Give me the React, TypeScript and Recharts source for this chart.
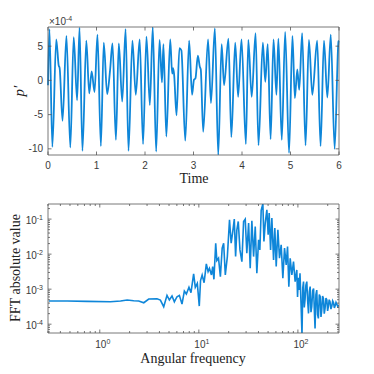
import React from 'react';
import { LineChart, Line, XAxis, YAxis } from 'recharts';

// ---------- top panel: pressure fluctuation vs time (values in units of 1e-4) ----------
const timeValues = [
  0, 0.03, 0.09, 0.17, 0.22, 0.24, 0.30, 0.38, 0.46, 0.53, 0.60, 0.65, 0.71, 0.79, 0.85, 0.90, 0.96,
  1.02, 1.09, 1.15, 1.22, 1.28, 1.33, 1.40, 1.46, 1.53, 1.60, 1.66, 1.74, 1.81, 1.89, 1.96,
  2.03, 2.10, 2.16, 2.23, 2.30, 2.35, 2.38, 2.44, 2.52, 2.56, 2.58, 2.60, 2.65, 2.71, 2.75, 2.83, 2.91, 2.97,
  3.01, 3.04, 3.09, 3.13, 3.15, 3.20, 3.30, 3.36, 3.44, 3.51, 3.58, 3.63, 3.72, 3.78, 3.86, 3.92, 3.99,
  4.08, 4.13, 4.20, 4.28, 4.34, 4.43, 4.48, 4.53, 4.59, 4.65, 4.71, 4.75, 4.82, 4.89, 4.97,
  5.04, 5.09, 5.14, 5.18, 5.24, 5.31, 5.38, 5.45, 5.55, 5.62, 5.69, 5.76, 5.83, 5.91, 5.99, 6.0,
];
const pressureE4 = [
  -0.7, 7.5, -9.7, 6.0, 2.2, 1.8, -5.9, 6.5, -9.8, 6.3, -2.9, 7.7, -10.3, 5.8, -1.9, 1.3, -1.7,
  6.7, -9.6, 5.5, -2.0, 1.5, 5.4, -8.7, 5.4, -3.1, 7.5, -10.3, 5.8, -2.1, 6.0, -9.3,
  6.4, -3.6, 7.8, -10.4, 5.9, -0.3, 5.3, -8.2, 6.0, 1.0, 1.8, 0.9, -5.1, 4.7, 4.4, -8.8, 5.8, -2.1,
  0.1, 0.3, 3.6, 2.0, 1.6, -7.5, 6.0, -3.3, 7.6, -10.9, 5.3, -0.7, 6.1, -8.3, 5.5, -2.4, 6.0,
  -9.3, 5.9, -2.4, 6.9, -9.5, 5.5, -0.2, 5.3, -8.6, 6.0, -2.1, 6.1, -8.7, 7.1, -10.6,
  6.5, -2.6, 1.6, -1.4, 6.9, -9.5, 5.9, -2.1, 5.8, -9.6, 5.8, -2.5, 6.7, -10.0, 5.7, 5.8,
];
const timeTicks = [0, 1, 2, 3, 4, 5, 6];
const pressureTicks = [-10, -5, 0, 5];

// ---------- bottom panel: FFT magnitude vs angular frequency ----------
const fftFreq = [
  0.306, 0.469, 0.745, 1.28, 1.62, 1.89, 2.20, 2.47, 2.78, 3.12, 3.78, 4.09, 4.42, 4.77, 5.04, 5.36, 5.66,
  6.02, 6.36, 6.76, 7.14, 7.48, 7.95, 8.33, 8.86, 9.21, 9.65, 10.1, 10.4, 10.8, 11.3, 11.9, 12.4, 12.8,
  13.4, 13.8, 14.2, 14.8, 15.2, 15.8, 16.5, 17.2, 17.8, 18.5, 19.4, 20.4, 21.2, 21.9, 22.8, 23.5, 24.2,
  25.0, 26.0, 27.2, 28.3, 29.4, 30.5, 31.8, 33.0, 34.3, 35.7, 37.1, 38.5, 40.1, 41.3, 42.6, 43.6, 44.3,
  45.4, 46.8, 48.6, 50.1, 51.3, 53.0, 54.6, 56.8, 58.5, 60.4, 62.8, 65.2, 67.8, 70.5, 73.3, 76.2, 78.6,
  81.0, 83.6, 86.9, 90.3, 93.8, 97.5, 99.2, 101, 103, 105, 107.5, 110, 112, 114, 116, 118, 120.5, 123,
  125.5, 128, 130.5, 133, 135.5, 138, 141, 144, 146.5, 149, 152, 155, 158, 161, 164.5, 168, 171, 174,
  177.5, 181, 184.5, 188, 192, 196, 199.5, 203, 207, 211, 215.5, 220, 224.5, 229, 233.5, 238, 242.5,
  247, 253, 259,
];
const fftAmp = [
  4.57e-4, 4.57e-4, 4.47e-4, 4.37e-4, 4.57e-4, 4.89e-4, 4.68e-4, 4.57e-4, 4.09e-4, 5.21e-4, 5.33e-4, 4.89e-4,
  3.15e-4, 6.64e-4, 4.89e-4, 6.35e-4, 4.37e-4, 6.08e-4, 6.64e-4, 3.75e-4, 8.85e-4, 7.26e-4, 1.13e-3, 7.93e-4,
  2.72e-3, 1.13e-3, 1.47e-3, 3.29e-4, 1.75e-3, 2.54e-3, 1.53e-3, 5.25e-3, 3.16e-3, 3.94e-3, 2.54e-3, 4.41e-3,
  1.91e-3, 2.05e-2, 6.55e-3, 7.64e-3, 2.28e-3, 1.48e-2, 2.05e-2, 2.54e-3, 8.51e-3, 9.57e-2, 2.05e-2, 3.97e-2,
  0.1, 8.51e-3, 4.94e-2, 8.57e-2, 1.32e-2, 6.12e-3, 8.57e-2, 0.1, 1.06e-2, 7.68e-2, 3.94e-3, 8.96e-2,
  8.51e-3, 6.16e-2, 2.84e-3, 2.56e-2, 1.32e-2, 0.177, 0.231, 0.27, 2.29e-2, 7.68e-2, 0.185, 3.56e-2,
  0.149, 1.32e-2, 0.107, 6.84e-3, 5.52e-2, 4.41e-3, 4.94e-2, 7.64e-3, 1.84e-2, 2.04e-3, 1.48e-2, 4.91e-3,
  1.65e-2, 1.18e-3, 7.64e-3, 2.54e-3, 6.12e-3, 1.64e-3, 3.53e-3, 6.0e-4, 2.1e-3, 9.44e-4, 2.84e-3, 4.0e-4,
  5.0e-5, 1.1e-3, 1.64e-3, 3.0e-4, 4.89e-4, 1.3e-3, 1.64e-3, 4.5e-4, 2.03e-4, 8.5e-4, 1.18e-3, 2.2e-4,
  3.15e-4, 9.0e-4, 1.05e-3, 2.6e-4, 7.53e-5, 7.0e-4, 9.44e-4, 1.9e-4, 1.46e-4, 7.0e-4, 6.08e-4, 1.6e-4,
  2.52e-4, 6.4e-4, 5.45e-4, 2.0e-4, 2.82e-4, 5.6e-4, 4.89e-4, 2.4e-4, 3.15e-4, 5.0e-4, 4.37e-4, 2.7e-4,
  3.29e-4, 4.6e-4, 4.09e-4, 2.9e-4, 3.43e-4, 4.2e-4, 3.75e-4, 3.2e-4, 3.50e-4,
];
const freqMajorTicks = [1, 10, 100];
const freqAllTicks = [
  0.3, 0.4, 0.5, 0.6, 0.7, 0.8, 0.9, 1, 2, 3, 4, 5, 6, 7, 8, 9, 10,
  20, 30, 40, 50, 60, 70, 80, 90, 100, 200,
];
const ampMajorTicks = [1e-4, 1e-3, 1e-2, 1e-1];
const ampAllTicks = [
  6e-5, 7e-5, 8e-5, 9e-5, 1e-4, 2e-4, 3e-4, 4e-4, 5e-4, 6e-4, 7e-4, 8e-4, 9e-4, 1e-3,
  2e-3, 3e-3, 4e-3, 5e-3, 6e-3, 7e-3, 8e-3, 9e-3, 1e-2, 2e-2, 3e-2, 4e-2, 5e-2, 6e-2, 7e-2,
  8e-2, 9e-2, 1e-1, 2e-1,
];

const timeData = timeValues.map((t, i) => ({ t, p: pressureE4[i] }));
const fftData = fftFreq.map((w, i) => ({ w, a: fftAmp[i] }));

const LINE_COLOR = '#0e86d9';
const AXIS_COLOR = '#555555';
const TICK_TEXT = '#3a3a3a';
const TICK_FONT = '"Liberation Sans", Arial, sans-serif';
const LABEL_FONT = '"Liberation Serif", "Times New Roman", serif';

type Side = 'bottom' | 'top' | 'left' | 'right';

function isIn(list: number[], v: number) {
  return list.some((m) => Math.abs(m - v) <= 1e-9 * Math.max(1e-12, Math.abs(m)) + 1e-15);
}

function makeTick(side: Side, major: number[], label: null | 'plain' | 'pow') {
  return (props: any) => {
    const { x, y, payload } = props;
    const v = payload.value as number;
    const isMajor = isIn(major, v);
    const L = isMajor ? 3.5 : 2;
    let x2 = x;
    let y2 = y;
    if (side === 'bottom') y2 = y - L;
    if (side === 'top') y2 = y + L;
    if (side === 'left') x2 = x + L;
    if (side === 'right') x2 = x - L;
    let text: React.ReactNode = null;
    if (label && isMajor) {
      const exp = Math.round(Math.log10(v));
      if (side === 'bottom') {
        text =
          label === 'plain' ? (
            <text x={x} y={y + 14} textAnchor="middle" fontSize={10} fill={TICK_TEXT} fontFamily={TICK_FONT}>
              {String(v)}
            </text>
          ) : (
            <text x={x + 3} y={y + 15} textAnchor="middle" fontSize={10} fill={TICK_TEXT} fontFamily={TICK_FONT}>
              <tspan>10</tspan>
              <tspan dy={-4} fontSize={7}>{String(exp)}</tspan>
            </text>
          );
      } else if (side === 'left') {
        text =
          label === 'plain' ? (
            <text x={x - 5} y={y + 3.5} textAnchor="end" fontSize={10} fill={TICK_TEXT} fontFamily={TICK_FONT}>
              {String(v)}
            </text>
          ) : (
            <text x={x - 5} y={y + 5} textAnchor="end" fontSize={10} fill={TICK_TEXT} fontFamily={TICK_FONT}>
              <tspan>10</tspan>
              <tspan dy={-4} fontSize={7}>{String(exp)}</tspan>
            </text>
          );
      }
    }
    return (
      <g>
        <line x1={x} y1={y} x2={x2} y2={y2} stroke={AXIS_COLOR} strokeWidth={0.8} />
        {text}
      </g>
    );
  };
}

const axisLine = { stroke: AXIS_COLOR, strokeWidth: 0.8 };

export default function App() {
  return (
    <div style={{ position: 'absolute', left: 0, top: 0, width: 374, height: 374, background: '#fff' }}>
      {/* Top panel: plot area x 48..339, y 27..155 */}
      <div style={{ position: 'absolute', left: 0, top: 0 }}>
        <LineChart width={374} height={187} data={timeData} margin={{ top: 26, right: 34, bottom: 12, left: 18 }}>
          <XAxis
            xAxisId="b"
            dataKey="t"
            type="number"
            domain={[0, 6]}
            ticks={timeTicks}
            interval={0}
            height={20}
            tickSize={0}
            tickMargin={0}
            axisLine={axisLine}
            tickLine={false}
            tick={makeTick('bottom', timeTicks, 'plain')}
          />
          <XAxis
            xAxisId="t"
            orientation="top"
            dataKey="t"
            type="number"
            domain={[0, 6]}
            ticks={timeTicks}
            interval={0}
            height={1}
            tickSize={0}
            tickMargin={0}
            axisLine={axisLine}
            tickLine={false}
            tick={makeTick('top', timeTicks, null)}
          />
          <YAxis
            yAxisId="l"
            type="number"
            domain={[-10.9, 7.8]}
            allowDataOverflow
            ticks={pressureTicks}
            interval={0}
            width={30}
            tickSize={0}
            tickMargin={0}
            axisLine={axisLine}
            tickLine={false}
            tick={makeTick('left', pressureTicks, 'plain')}
          />
          <YAxis
            yAxisId="r"
            orientation="right"
            type="number"
            domain={[-10.9, 7.8]}
            allowDataOverflow
            ticks={pressureTicks}
            interval={0}
            width={1}
            tickSize={0}
            tickMargin={0}
            axisLine={axisLine}
            tickLine={false}
            tick={makeTick('right', pressureTicks, null)}
          />
          <Line
            xAxisId="b"
            yAxisId="l"
            type="monotone"
            dataKey="p"
            stroke={LINE_COLOR}
            strokeWidth={1.8}
            dot={false}
            activeDot={false}
            isAnimationActive={false}
          />
        </LineChart>
      </div>

      {/* Bottom panel: plot area x 48..339, y 204..333 */}
      <div style={{ position: 'absolute', left: 0, top: 187 }}>
        <LineChart width={374} height={187} data={fftData} margin={{ top: 16, right: 34, bottom: 21, left: 18 }}>
          <XAxis
            xAxisId="b"
            dataKey="w"
            type="number"
            scale="log"
            domain={[0.3, 260]}
            allowDataOverflow
            ticks={freqAllTicks}
            interval={0}
            height={20}
            tickSize={0}
            tickMargin={0}
            axisLine={axisLine}
            tickLine={false}
            tick={makeTick('bottom', freqMajorTicks, 'pow')}
          />
          <XAxis
            xAxisId="t"
            orientation="top"
            dataKey="w"
            type="number"
            scale="log"
            domain={[0.3, 260]}
            allowDataOverflow
            ticks={freqAllTicks}
            interval={0}
            height={1}
            tickSize={0}
            tickMargin={0}
            axisLine={axisLine}
            tickLine={false}
            tick={makeTick('top', freqMajorTicks, null)}
          />
          <YAxis
            yAxisId="l"
            type="number"
            scale="log"
            domain={[5.6e-5, 0.27]}
            allowDataOverflow
            ticks={ampAllTicks}
            interval={0}
            width={30}
            tickSize={0}
            tickMargin={0}
            axisLine={axisLine}
            tickLine={false}
            tick={makeTick('left', ampMajorTicks, 'pow')}
          />
          <YAxis
            yAxisId="r"
            orientation="right"
            type="number"
            scale="log"
            domain={[5.6e-5, 0.27]}
            allowDataOverflow
            ticks={ampAllTicks}
            interval={0}
            width={1}
            tickSize={0}
            tickMargin={0}
            axisLine={axisLine}
            tickLine={false}
            tick={makeTick('right', ampMajorTicks, null)}
          />
          <Line
            xAxisId="b"
            yAxisId="l"
            type="linear"
            dataKey="a"
            stroke={LINE_COLOR}
            strokeWidth={1.6}
            dot={false}
            activeDot={false}
            isAnimationActive={false}
          />
        </LineChart>
      </div>

      {/* Axis titles and exponent label */}
      <svg
        width={374}
        height={374}
        style={{ position: 'absolute', left: 0, top: 0, pointerEvents: 'none' }}
      >
        <text x={49} y={25} fontSize={10} fill={TICK_TEXT} fontFamily={TICK_FONT}>
          <tspan>×10</tspan>
          <tspan dy={-4} fontSize={7}>-4</tspan>
        </text>
        <text x={194} y={183} textAnchor="middle" fontSize={14} fill="#222" fontFamily={LABEL_FONT}>
          Time
        </text>
        <text
          x={0}
          y={0}
          transform="translate(24, 91) rotate(-90)"
          textAnchor="middle"
          fontSize={15}
          fill="#222"
          fontFamily={LABEL_FONT}
          fontStyle="italic"
        >
          p′
        </text>
        <text x={193} y={363} textAnchor="middle" fontSize={14} fill="#222" fontFamily={LABEL_FONT}>
          Angular frequency
        </text>
        <text
          x={0}
          y={0}
          transform="translate(20, 268) rotate(-90)"
          textAnchor="middle"
          fontSize={14}
          fill="#222"
          fontFamily={LABEL_FONT}
        >
          FFT absolute value
        </text>
      </svg>
    </div>
  );
}
